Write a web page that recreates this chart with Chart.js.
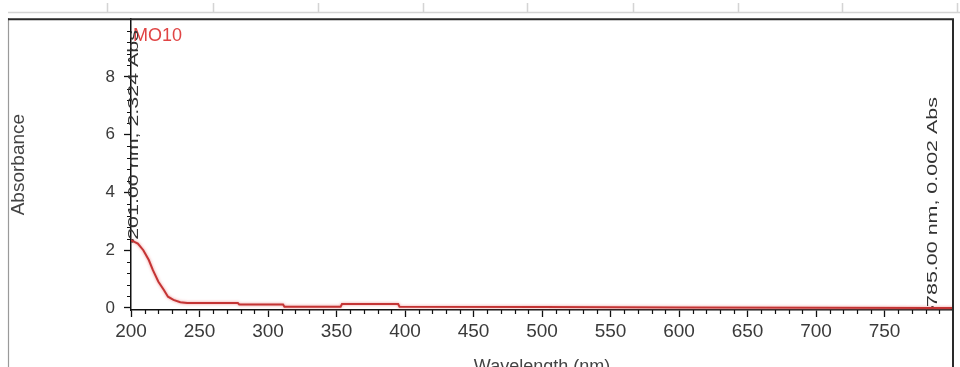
<!DOCTYPE html>
<html><head><meta charset="utf-8">
<script src="https://cdn.jsdelivr.net/npm/chart.js@4"></script>
<style>html,body{margin:0;padding:0;background:#fff;overflow:hidden;width:960px;height:367px}canvas{display:block}</style>
</head><body>
<canvas id="c" width="960" height="380"></canvas>
<script>
// ---- data ----
const seriesName = 'MO10';
const wavelengths = [200, 201, 205, 209, 213, 216, 220, 224, 227, 231, 236, 241, 278, 279, 311, 312, 353, 354, 395, 396, 500, 600, 700, 785, 800];
const absorbance  = [2.34, 2.324, 2.23, 2.0, 1.66, 1.31, 0.91, 0.62, 0.39, 0.28, 0.2, 0.17, 0.17, 0.12, 0.12, 0.045, 0.045, 0.14, 0.14, 0.045, 0.03, 0.02, 0.01, 0.002, 0.002];
const cursorWavelengths = [201, 785];
const cursorAbsorbance  = [2.324, 0.002];
const cursorLabels = ['201.00 nm, 2.324 Abs', '785.00 nm, 0.002 Abs'];
const xTickLabels = [200, 250, 300, 350, 400, 450, 500, 550, 600, 650, 700, 750];
const yTickLabels = [0, 2, 4, 6, 8];
const xTitle = 'Wavelength (nm)';
const yTitle = 'Absorbance';

const SANS = "'Liberation Sans', Arial, sans-serif";

const decorPlugin = {
  id: 'decor',
  beforeDraw(chart) {
    const ctx = chart.ctx;
    ctx.save();
    ctx.fillStyle = '#fff';
    ctx.fillRect(0, 0, chart.width, chart.height);
    ctx.strokeStyle = '#d4d4d4';
    ctx.lineWidth = 1.5;
    ctx.beginPath();
    ctx.moveTo(8, 12.5); ctx.lineTo(960, 12.5);
    [107, 213, 318, 423, 527, 633, 738, 842, 957].forEach(x => { ctx.moveTo(x + 0.5, 3); ctx.lineTo(x + 0.5, 13); });
    ctx.stroke();
    ctx.strokeStyle = '#9a9a9a';
    ctx.lineWidth = 1.2;
    ctx.beginPath();
    ctx.moveTo(8.5, 18); ctx.lineTo(8.5, chart.height);
    ctx.stroke();
    ctx.restore();
  },
  beforeDatasetDraw(chart, args) {
    if (args.index === 0) {
      const ctx = chart.ctx;
      ctx.save();
      ctx.shadowColor = 'rgba(235,130,130,0.9)';
      ctx.shadowBlur = 3;
    }
  },
  afterDatasetDraw(chart, args) {
    if (args.index === 0) chart.ctx.restore();
  },
  afterDraw(chart) {
    const ctx = chart.ctx;
    const xs = chart.scales.x, ys = chart.scales.y;
    const a = chart.chartArea;
    ctx.save();
    ctx.strokeStyle = '#2a2a2a';
    ctx.lineWidth = 2;
    ctx.beginPath();
    ctx.moveTo(8, a.top); ctx.lineTo(a.right, a.top); ctx.lineTo(a.right, chart.height);
    ctx.stroke();
    ctx.strokeStyle = '#111';
    ctx.lineWidth = 1.2;
    ctx.beginPath();
    for (let v = xs.min; v <= xs.max; v += 10) {
      if (v % 50 === 0) continue;
      const px = Math.round(xs.getPixelForValue(v)) + 0.5;
      ctx.moveTo(px, a.bottom); ctx.lineTo(px, a.bottom + 4);
    }
    for (let k = 0; k * 0.4 <= ys.max; k++) {
      if (k % 5 === 0) continue;
      const py = Math.round(ys.getPixelForValue(k * 0.4)) + 0.5;
      ctx.moveTo(a.left, py); ctx.lineTo(a.left - 4, py);
    }
    ctx.stroke();
    ctx.fillStyle = '#e04444';
    ctx.font = '18px ' + SANS;
    ctx.textAlign = 'left';
    ctx.textBaseline = 'middle';
    ctx.fillText(seriesName, a.left + 2, a.top + 17);
    const meta = chart.getDatasetMeta(1);
    meta.data.forEach((pt, i) => {
      ctx.save();
      ctx.translate(pt.x + (i === 0 ? 1.5 : 0), pt.y - 1);
      ctx.rotate(-Math.PI / 2);
      ctx.scale(1.43, 1);
      ctx.fillStyle = '#333';
      ctx.font = '15px ' + SANS;
      ctx.textAlign = 'left';
      ctx.textBaseline = 'middle';
      ctx.fillText(cursorLabels[i], 0, 0);
      ctx.restore();
    });
    ctx.restore();
  }
};

new Chart(document.getElementById('c'), {
  type: 'line',
  data: {
    datasets: [
      {
        label: seriesName,
        data: wavelengths.map((w, i) => ({ x: w, y: absorbance[i] })),
        borderColor: '#c43434',
        borderWidth: 2,
        pointRadius: 0,
        tension: 0
      },
      {
        label: 'cursor',
        data: cursorWavelengths.map((w, i) => ({ x: w, y: cursorAbsorbance[i] })),
        showLine: false,
        pointRadius: 1.8,
        pointBackgroundColor: '#111',
        pointBorderWidth: 0
      }
    ]
  },
  options: {
    responsive: false,
    animation: false,
    layout: { padding: { left: 0, right: 7, top: 19, bottom: 0 } },
    plugins: { legend: { display: false }, tooltip: { enabled: false } },
    scales: {
      x: {
        type: 'linear',
        min: 200, max: 800,
        afterBuildTicks: s => { s.ticks = xTickLabels.map(v => ({ value: v })); },
        afterFit: s => { s.height = 70; },
        ticks: { color: '#3a3a3a', font: { family: SANS, size: 19 }, padding: 3, maxRotation: 0, autoSkip: false },
        grid: { drawOnChartArea: false, tickLength: 7, tickColor: '#111', tickWidth: 1.3 },
        border: { color: '#111', width: 1.5 },
        title: { display: true, text: xTitle, color: '#444', font: { family: SANS, size: 18 }, padding: { top: 0, bottom: 2 } }
      },
      y: {
        type: 'linear',
        min: -0.07, max: 10,
        afterBuildTicks: s => { s.ticks = yTickLabels.map(v => ({ value: v })); },
        afterFit: s => { s.width = 131; },
        ticks: { color: '#3a3a3a', font: { family: SANS, size: 17 }, padding: 9 },
        grid: { drawOnChartArea: false, tickLength: 7, tickColor: '#111', tickWidth: 1.3 },
        border: { color: '#111', width: 1.5 },
        title: { display: true, text: yTitle, color: '#444', font: { family: SANS, size: 19 }, padding: { top: 7, bottom: 0 } }
      }
    }
  },
  plugins: [decorPlugin]
});
</script>
</body></html>
